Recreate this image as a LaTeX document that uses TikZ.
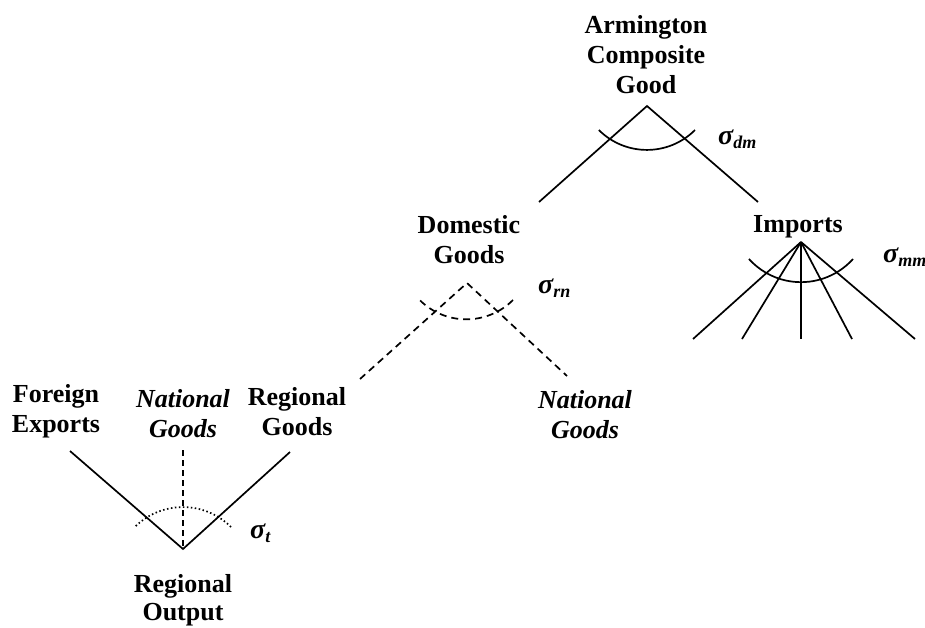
\documentclass[tikz,border=0pt]{standalone}
\usepackage{fontspec}
\setmainfont{Liberation Serif}
\begin{document}
\begin{tikzpicture}[x=1pt,y=-1pt,
  lbl/.style={font=\bfseries\fontsize{26}{30}\selectfont, align=center, inner sep=0pt, anchor=base},
  ilbl/.style={lbl, font=\bfseries\itshape\fontsize{26}{30}\selectfont},
  elas/.style={font=\bfseries\itshape\fontsize{28}{30}\selectfont, inner sep=0pt, anchor=base west},
  branch/.style={line width=1.7pt},
  dashbranch/.style={line width=1.7pt, dash pattern=on 7pt off 5pt},
  nest/.style={line width=1.7pt},
  nestdash/.style={line width=1.7pt, dash pattern=on 7pt off 5pt},
  nestdot/.style={line width=1.7pt, dash pattern=on 1.5pt off 2.5pt}]
\useasboundingbox (0,0) rectangle (925,627);
\newcommand{\elsub}[1]{\raisebox{-4pt}{\fontsize{18}{18}\selectfont #1}}

% labels (anchored at the baseline of their last line)
\node[lbl] (arm) at (646,93) {Armington\\Composite\\Good};
\node[lbl] (dom) at (469,263) {Domestic\\Goods};
\node[lbl] (imp) at (798,232) {Imports};
\node[lbl] (fex) at (56,432) {Foreign\\Exports};
\node[ilbl] (natl) at (183,437) {National\\Goods};
\node[lbl] (reg) at (297,435) {Regional\\Goods};
\node[ilbl] (natr) at (585,438) {National\\Goods};
\node[lbl, font=\bfseries\fontsize{26}{28}\selectfont] (out) at (183,620) {Regional\\Output};

% elasticities
\node[elas] (sdm) at (718,144) {σ\elsub{dm}};
\node[elas] (srn) at (538,293) {σ\elsub{rn}};
\node[elas] (smm) at (883,262) {σ\elsub{mm}};
\node[elas] (st) at (250,538) {σ\elsub{t}};

% branch points and branch ends
\coordinate (armv) at (647,106);
\coordinate (domv) at (467,283);
\coordinate (impv) at (801,242);
\coordinate (outv) at (183,549);
\coordinate (arml) at (539,202);
\coordinate (armr) at (758,202);
\coordinate (doml) at (360,379);
\coordinate (domr) at (567,376);
\coordinate (fexe) at (70,451);
\coordinate (rege) at (290,452);
\coordinate (natle) at (183,450);
\foreach \i/\x in {1/693,2/742,3/801,4/852,5/915}
  \coordinate (imp\i) at (\x,339);

% top nest: domestic vs imports
\draw[branch] (arml) -- (armv) -- (armr);
\draw[nest] (armv) ++(48,24) arc[start angle=45, end angle=135, radius=68];

% domestic nest: regional vs national
\draw[dashbranch] (doml) -- (domv) -- (domr);
\draw[nestdash] (domv) ++(46,17) arc[start angle=45, end angle=135, radius=66];

% import varieties
\foreach \i in {1,...,5} \draw[branch] (impv) -- (imp\i);
\draw[nest] (impv) ++(52,17) arc[start angle=42, end angle=138, radius=70];

% transformation of regional output
\draw[branch] (fexe) -- (outv) -- (rege);
\draw[dashbranch, dash pattern=on 6pt off 4pt] (natle) -- (outv);
\draw[nestdot] (outv) ++(48,-22) arc[start angle=-45, end angle=-135, radius=68];
\end{tikzpicture}
\end{document}
